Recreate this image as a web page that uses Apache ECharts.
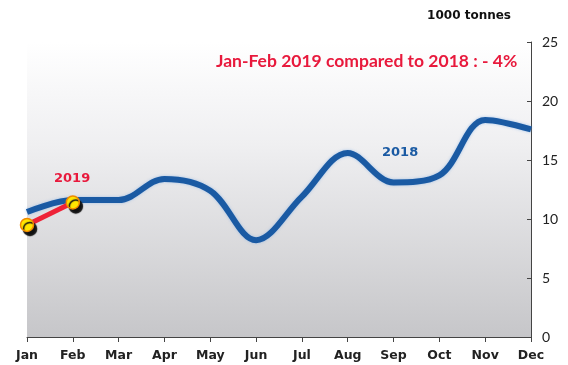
<!DOCTYPE html>
<html>
<head>
<meta charset="utf-8">
<script src="https://cdn.jsdelivr.net/npm/echarts@6/dist/echarts.min.js"></script>
<style>html,body{margin:0;padding:0;background:#fff}#c{width:568px;height:365px}</style>
</head>
<body>
<div id="c"></div>
<script>
var months = ['Jan','Feb','Mar','Apr','May','Jun','Jul','Aug','Sep','Oct','Nov','Dec'];
var series2018 = [10.6, 11.6, 11.6, 13.4, 12.4, 8.2, 11.9, 15.6, 13.1, 13.7, 18.4, 17.6];
var series2019 = [9.5, 11.4];
var yTicks = {min: 0, max: 25, interval: 5};
var unitLabel = '1000 tonnes';
var note = 'Jan-Feb 2019 compared to 2018 : - 4%';

var chart = echarts.init(document.getElementById('c'));
chart.setOption({
  animation: false,
  backgroundColor: '#ffffff',
  grid: {
    left: 27, right: 37, top: 42, bottom: 28,
    show: true, borderWidth: 0,
    backgroundColor: new echarts.graphic.LinearGradient(0, 0, 0, 1, [
      {offset: 0, color: '#ffffff'},
      {offset: 0.35, color: '#efeff1'},
      {offset: 1, color: '#c6c6c9'}
    ])
  },
  xAxis: {
    type: 'category', data: months, boundaryGap: false,
    axisLine: {lineStyle: {color: '#444', width: 1}},
    axisTick: {show: true, alignWithLabel: true, length: 5, lineStyle: {color: '#444'}},
    axisLabel: {color: '#222', fontFamily: 'DejaVu Sans', fontWeight: 'bold', fontSize: 12.5, margin: 12, interval: 0},
    splitLine: {show: false}
  },
  yAxis: {
    type: 'value', position: 'right', min: yTicks.min, max: yTicks.max, interval: yTicks.interval,
    axisLine: {show: true, lineStyle: {color: '#444', width: 1}},
    axisTick: {show: true, inside: true, length: 4, lineStyle: {color: '#444'}},
    axisLabel: {color: '#222', fontFamily: 'Lato', fontSize: 14, margin: 11},
    splitLine: {show: false}
  },
  series: [
    {
      name: '2018', type: 'line', data: series2018, smooth: 0.35,
      symbol: 'none',
      lineStyle: {color: '#1a5aa3', width: 6, shadowColor: 'rgba(120,170,230,0.6)', shadowBlur: 3},
      z: 2
    },
    {
      name: '2019', type: 'line', data: series2019,
      symbol: 'circle', symbolSize: 13,
      lineStyle: {color: '#ee2237', width: 5},
      itemStyle: {color: '#ffe500', borderColor: '#f08a00', borderWidth: 1.5,
        shadowColor: '#111', shadowOffsetX: 3, shadowOffsetY: 4, shadowBlur: 1},
      z: 3
    }
  ],
  graphic: [
    {type: 'text', right: 57, top: 10, style: {text: unitLabel, fill: '#111', font: 'bold 12px "DejaVu Sans"'}},
    {type: 'text', left: 216, top: 52, style: {text: note, fill: '#e8193c', font: 'bold 17.5px Lato'}},
    {type: 'text', left: 54, top: 172, style: {text: '2019', fill: '#e8193c', font: 'bold 13px "DejaVu Sans"'}},
    {type: 'text', left: 382, top: 146, style: {text: '2018', fill: '#1a5aa3', font: 'bold 13px "DejaVu Sans"'}}
  ]
});
</script>
</body>
</html>
